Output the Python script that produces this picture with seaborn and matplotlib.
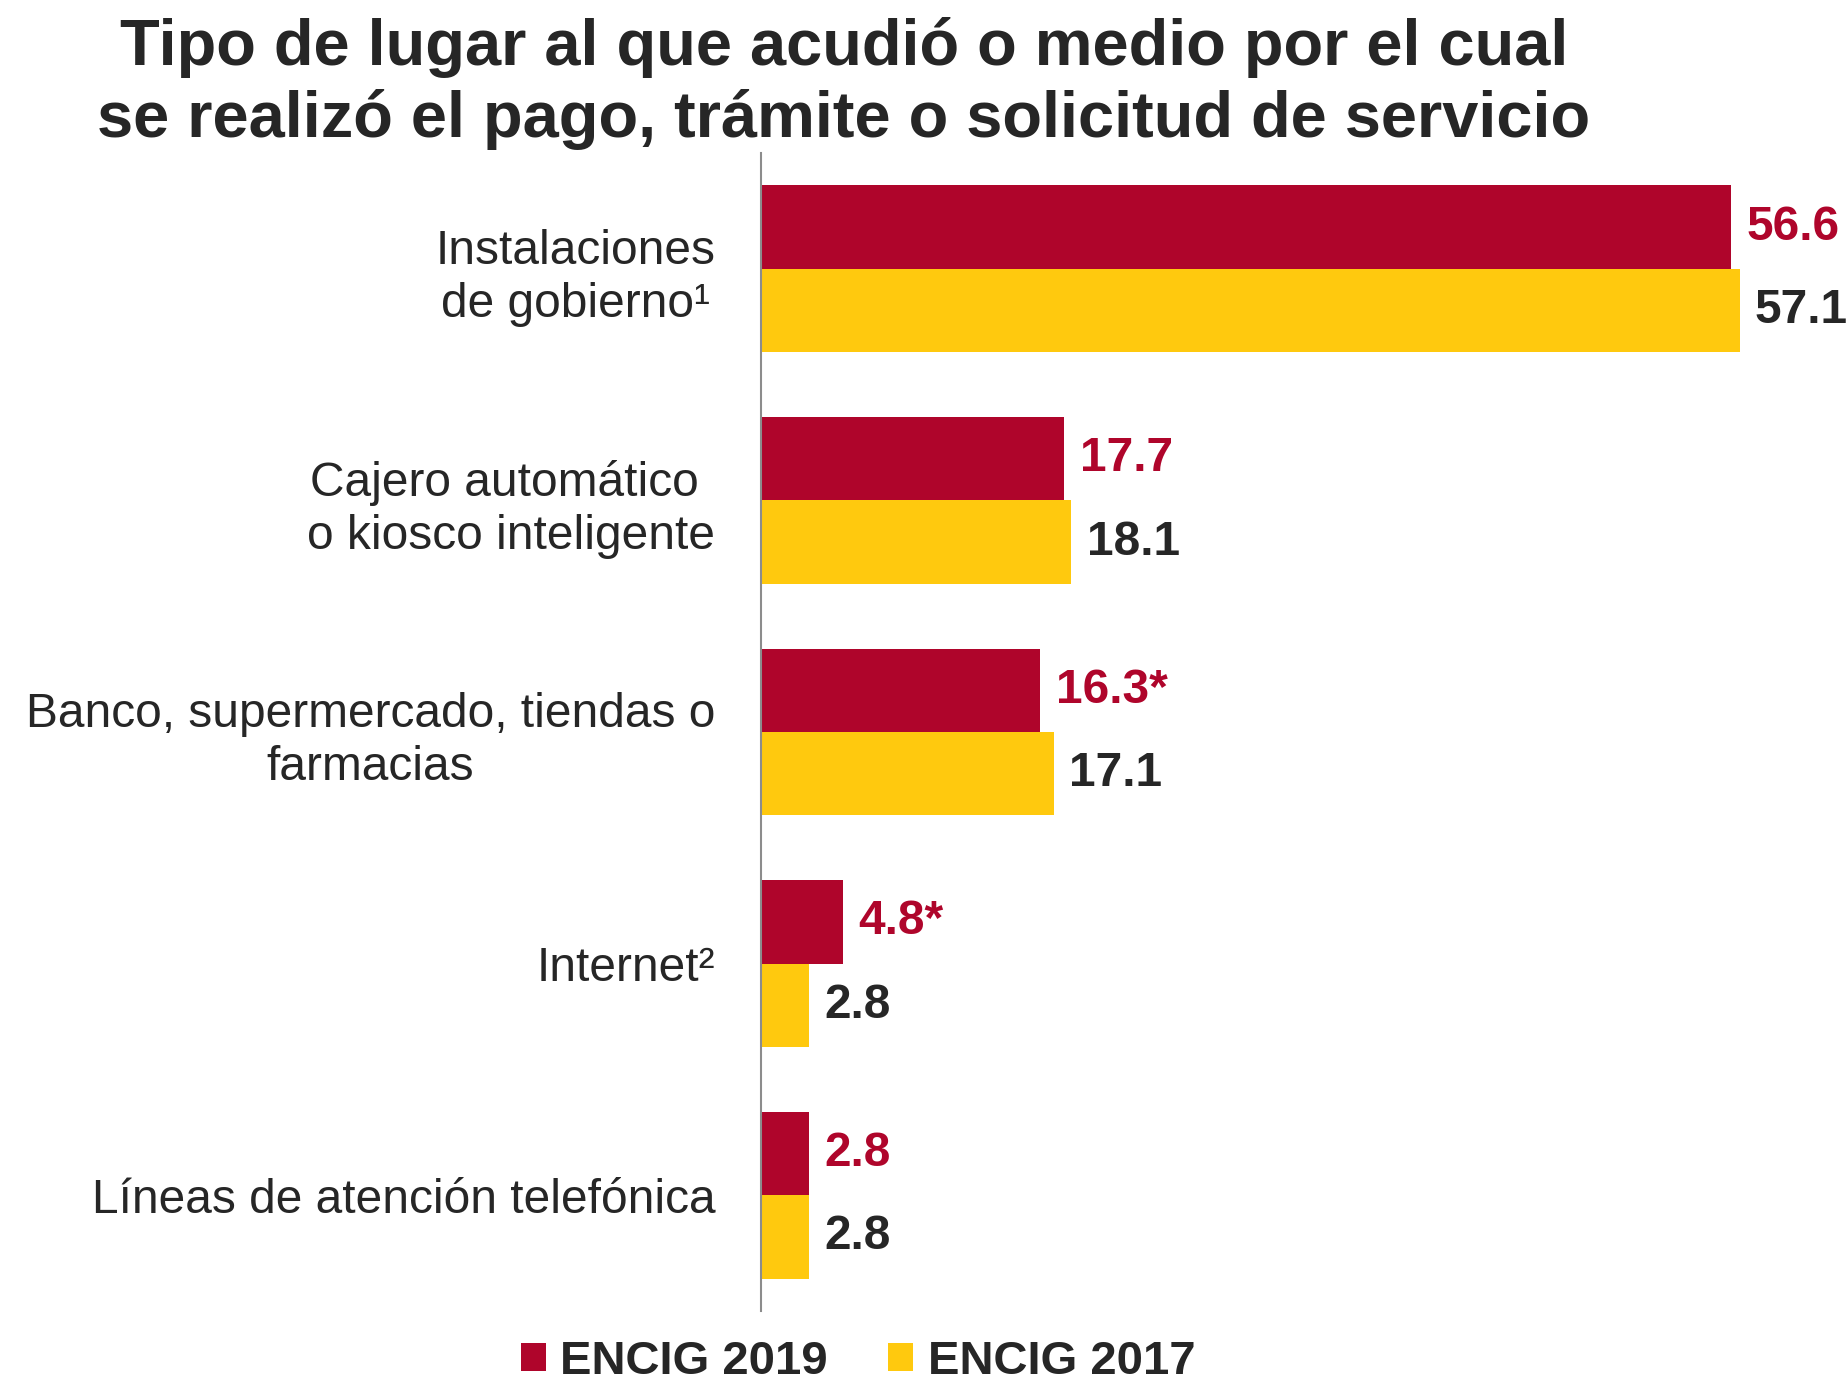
import numpy as np
import pandas as pd
import matplotlib
matplotlib.use("Agg")
import matplotlib.pyplot as plt
import seaborn as sns

# --- Data ---
categorias = [
    "Instalaciones\nde gobierno¹",
    "Cajero automático \no kiosco inteligente",
    "Banco, supermercado, tiendas o\nfarmacias",
    "Internet²",
    "Líneas de atención telefónica",
]
encig_2019 = [56.6, 17.7, 16.3, 4.8, 2.8]
encig_2017 = [57.1, 18.1, 17.1, 2.8, 2.8]
marca_2019 = ["", "", "*", "*", ""]
series = ["ENCIG 2019", "ENCIG 2017"]

titulo = "Tipo de lugar al que acudió o medio por el cual\nse realizó el pago, trámite o solicitud de servicio"

# --- Style ---
ROJO = "#AF052B"
AMARILLO = "#FFC90E"
TEXTO = "#262626"

sns.set_style("white")
plt.rcParams["font.family"] = ["Liberation Sans", "DejaVu Sans"]

df = pd.DataFrame({
    "categoria": categorias * 2,
    "valor": encig_2019 + encig_2017,
    "encuesta": [series[0]] * len(categorias) + [series[1]] * len(categorias),
})

W, H = 1846, 1386
fig = plt.figure(figsize=(W / 100, H / 100), dpi=100)
ax = fig.add_axes([761 / W, 1 - 1311 / H, (W - 761) / W, (1311 - 153) / H])

sns.barplot(data=df, y="categoria", x="valor", hue="encuesta", orient="h",
            order=categorias, hue_order=series, palette=[ROJO, AMARILLO],
            saturation=1, width=0.72, linewidth=0, errorbar=None, ax=ax)

ax.set_xlim(0, 63.3)
ax.set_ylim(4.5, -0.5)
ax.set_xlabel("")
ax.set_ylabel("")
ax.set_xticks([])

# category labels: lines centred, block right aligned
ax.set_yticks(range(len(categorias)))
ax.set_yticklabels(categorias, fontsize=34.5, color=TEXTO,
                   multialignment="center", linespacing=1.24)
ax.set_yticks(np.arange(-0.5, len(categorias)), minor=True)
ax.tick_params(axis="y", which="major", length=0, pad=33)
ax.tick_params(axis="y", which="minor", length=10, width=1.3, color="#8c8c8c", direction="out")

for side in ["top", "right", "bottom"]:
    ax.spines[side].set_visible(False)
ax.spines["left"].set_color("#8c8c8c")
ax.spines["left"].set_linewidth(1.5)

# value labels
etiquetas_2019 = [f"{v:.1f}{m}" for v, m in zip(encig_2019, marca_2019)]
etiquetas_2017 = [f"{v:.1f}" for v in encig_2017]
ax.bar_label(ax.containers[0], labels=etiquetas_2019, padding=11, fontsize=34.5,
             fontweight="bold", color=ROJO, clip_on=False)
ax.bar_label(ax.containers[1], labels=etiquetas_2017, padding=11, fontsize=34.5,
             fontweight="bold", color=TEXTO, clip_on=False)

# legend
sns.move_legend(ax, "lower center", bbox_to_anchor=(858 / W, -0.012),
                bbox_transform=fig.transFigure, ncol=2, frameon=False, title=None,
                fontsize=34, handlelength=0.53, handleheight=0.53,
                handletextpad=0.3, columnspacing=1.29, borderaxespad=0)
for t in ax.get_legend().get_texts():
    t.set_fontweight("bold")
    t.set_color(TEXTO)

fig.text(844 / W, 1 - 137 / H, titulo, ha="center", va="baseline",
         fontsize=46.8, fontweight="bold", color=TEXTO, linespacing=1.22)

fig.savefig("out.png", dpi=100)
